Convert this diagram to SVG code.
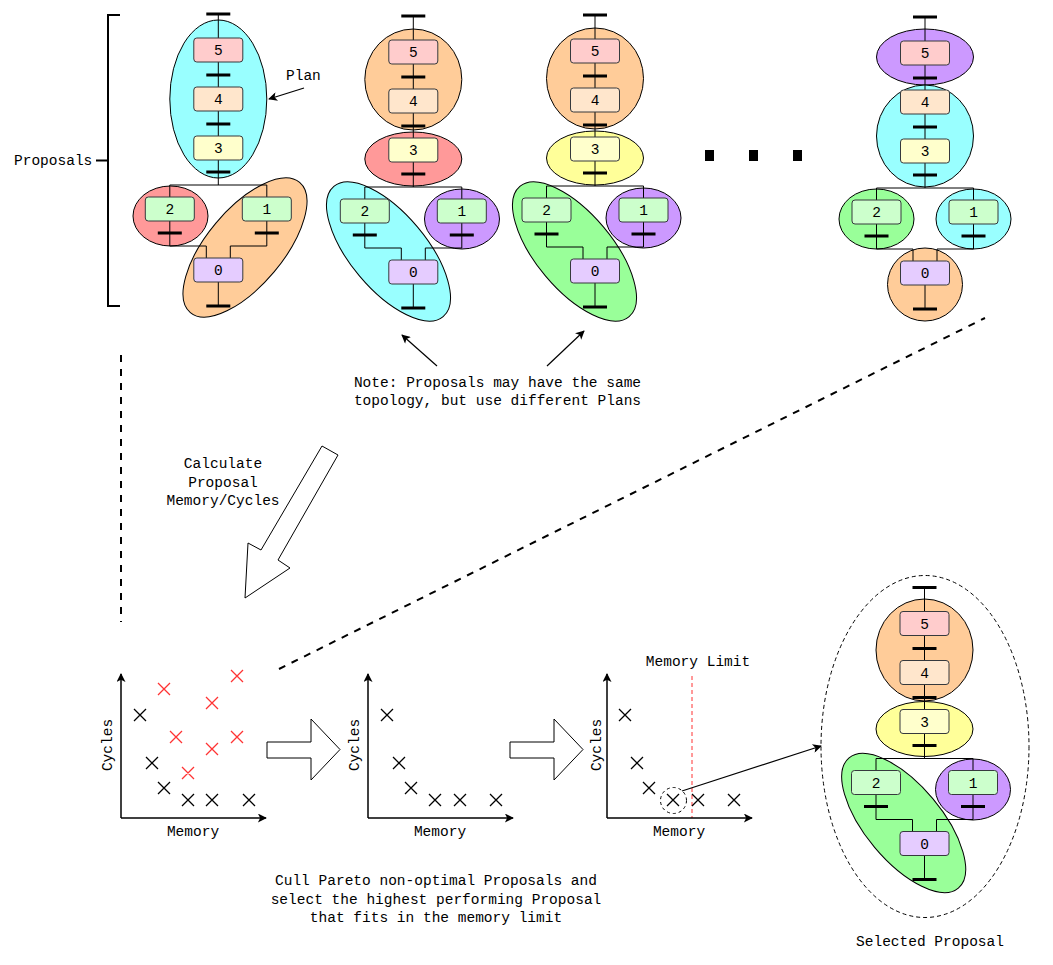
<svg xmlns="http://www.w3.org/2000/svg" width="1053" height="965" viewBox="0 0 1053 965">
<style>
text{font-family:"Liberation Mono","DejaVu Sans Mono",monospace;font-size:14.5px;fill:#000}
.c{text-anchor:middle}
.ln{stroke:#000;stroke-width:1;fill:none}
.bar{stroke:#000;stroke-width:3;fill:none}
.box{stroke:#36393d;stroke-width:1}
.pl{stroke:#000;stroke-width:1}
.ax{stroke:#000;stroke-width:1.5;fill:none;marker-end:url(#ah)}
.xm{stroke:#000;stroke-width:1.3;fill:none}
.xr{stroke:#ff3333;stroke-width:1.3;fill:none}
.dash{stroke:#000;stroke-width:2;fill:none;stroke-dasharray:7 7}
.arr{stroke:#000;stroke-width:1.2;fill:none;marker-end:url(#ah)}
.blk{fill:#fff;stroke:#000;stroke-width:1}
</style>
<defs>
<marker id="ah" viewBox="0 0 10 10" refX="9" refY="5" markerWidth="10" markerHeight="9" orient="auto" markerUnits="userSpaceOnUse">
<path d="M0,0 L10,5 L0,10 L2.5,5 z" fill="#000"/>
</marker>
<g id="topo">
<path class="ln" d="M0,0V171 M-48.5,171H48.5 M-48.5,171V232H-12V244 M48.5,171V232H12V244 M0,268V292"/>
<path class="bar" d="M-12,0H12 M-12,61H12 M-12,110H12 M-12,158H12 M-60.5,219H-36.5 M36.5,219H60.5 M-12,292H12"/>
<rect class="box" x="-24.5" y="24" width="49" height="24" rx="3" fill="#ffcccc"/>
<text class="c" x="0" y="41">5</text>
<rect class="box" x="-24.5" y="73" width="49" height="24" rx="3" fill="#ffe6cc"/>
<text class="c" x="0" y="90">4</text>
<rect class="box" x="-24.5" y="122" width="49" height="24" rx="3" fill="#ffffcc"/>
<text class="c" x="0" y="139">3</text>
<rect class="box" x="-73" y="183" width="49" height="24" rx="3" fill="#ccffcc"/>
<text class="c" x="-48.5" y="200">2</text>
<rect class="box" x="24" y="183" width="49" height="24" rx="3" fill="#ccffcc"/>
<text class="c" x="48.5" y="200">1</text>
<rect class="box" x="-24.5" y="244" width="49" height="24" rx="3" fill="#e5ccff"/>
<text class="c" x="0" y="261">0</text>
</g>
</defs>
<rect width="1053" height="965" fill="#fff"/>

<g id="proposals-bracket">
<path d="M120,15H108V306H120 M96,160.5H108" stroke="#000" stroke-width="2" fill="none"/>
<text x="14" y="165">Proposals</text>
</g>

<g id="proposal-1" transform="translate(218.3,14)">
<ellipse class="pl" cx="0" cy="85" rx="48.5" ry="79" fill="#99ffff"/>
<ellipse class="pl" cx="-47.8" cy="202" rx="37.5" ry="30" fill="#ff9999"/>
<ellipse class="pl" transform="translate(26.7,233.5) rotate(-50)" rx="85" ry="38" fill="#ffcc99"/>
<use href="#topo"/>
</g>
<text id="plan-label" x="286" y="80">Plan</text>

<g id="proposal-2" transform="translate(413.3,16)">
<ellipse class="pl" cx="0" cy="63.5" rx="48.5" ry="50.5" fill="#ffcc99"/>
<ellipse class="pl" cx="0" cy="143" rx="48.5" ry="27" fill="#ff9999"/>
<ellipse class="pl" transform="translate(-24.8,235.5) rotate(50)" rx="85" ry="38" fill="#99ffff"/>
<ellipse class="pl" cx="48.7" cy="203" rx="37.5" ry="30" fill="#cc99ff"/>
<use href="#topo"/>
</g>

<g id="proposal-3" transform="translate(595,15)">
<ellipse class="pl" cx="0" cy="63.5" rx="48.5" ry="50.5" fill="#ffcc99"/>
<ellipse class="pl" cx="0" cy="143" rx="48.5" ry="27" fill="#ffff99"/>
<ellipse class="pl" transform="translate(-20.5,236.5) rotate(50)" rx="85" ry="38" fill="#99ff99"/>
<ellipse class="pl" cx="48.5" cy="203" rx="37.5" ry="30" fill="#cc99ff"/>
<use href="#topo"/>
</g>

<g id="ellipsis">
<path d="M705,155.5H802" stroke="#000" stroke-width="11" stroke-dasharray="9 35" fill="none"/>
</g>

<g id="proposal-4" transform="translate(925,17)">
<ellipse class="pl" cx="0" cy="40" rx="48.5" ry="28" fill="#cc99ff"/>
<ellipse class="pl" cx="0" cy="119" rx="48.5" ry="51" fill="#99ffff"/>
<ellipse class="pl" cx="-48.5" cy="202" rx="37.5" ry="30" fill="#99ff99"/>
<ellipse class="pl" cx="48.5" cy="202" rx="37.5" ry="30" fill="#99ffff"/>
<ellipse class="pl" cx="0" cy="267.5" rx="37.5" ry="36.5" fill="#ffcc99"/>
<use href="#topo"/>
</g>

<g id="note">
<text class="c" x="497.5" y="387">Note: Proposals may have the same</text>
<text class="c" x="497.5" y="405">topology, but use different Plans</text>
</g>

<g id="calc-label">
<text class="c" x="223" y="468">Calculate</text>
<text class="c" x="223" y="486.5">Proposal</text>
<text class="c" x="223" y="505">Memory/Cycles</text>
</g>

<g id="plot-1">
<path class="ax" d="M121,818V674"/>
<path class="ax" d="M121,818H266"/>
<text class="c" transform="translate(112,745) rotate(-90)">Cycles</text>
<text class="c" x="193" y="836">Memory</text>
<path class="xm" d="M134,709l12,12m0,-12l-12,12 M146,757l12,12m0,-12l-12,12 M158,782l12,12m0,-12l-12,12 M182,794l12,12m0,-12l-12,12 M206,794l12,12m0,-12l-12,12 M243,794l12,12m0,-12l-12,12"/>
<path class="xr" d="M158,683l12,12m0,-12l-12,12 M231,670l12,12m0,-12l-12,12 M206,697l12,12m0,-12l-12,12 M170,731l12,12m0,-12l-12,12 M231,731l12,12m0,-12l-12,12 M206,743l12,12m0,-12l-12,12 M182,767l12,12m0,-12l-12,12"/>
</g>

<g id="plot-2">
<path class="ax" d="M368,818V674"/>
<path class="ax" d="M368,818H513"/>
<text class="c" transform="translate(358.5,745) rotate(-90)">Cycles</text>
<text class="c" x="440" y="836">Memory</text>
<path class="xm" d="M381,709l12,12m0,-12l-12,12 M393,757l12,12m0,-12l-12,12 M405,782l12,12m0,-12l-12,12 M429,794l12,12m0,-12l-12,12 M454,794l12,12m0,-12l-12,12 M490,794l12,12m0,-12l-12,12"/>
</g>

<g id="plot-3">
<path d="M692,676V818" stroke="#ff3333" stroke-width="1" stroke-dasharray="4 3" fill="none"/>
<path class="ax" d="M607,818V674"/>
<path class="ax" d="M607,818H752"/>
<text class="c" transform="translate(600.5,745) rotate(-90)">Cycles</text>
<text class="c" x="679" y="836">Memory</text>
<text class="c" x="698" y="666">Memory Limit</text>
<path class="xm" d="M619,709l12,12m0,-12l-12,12 M631,757l12,12m0,-12l-12,12 M643,782l12,12m0,-12l-12,12 M667,794l12,12m0,-12l-12,12 M692,794l12,12m0,-12l-12,12 M728,794l12,12m0,-12l-12,12"/>
<circle cx="673.5" cy="800.5" r="13" fill="none" stroke="#000" stroke-width="1" stroke-dasharray="3 3"/>
</g>

<g id="cull-label">
<text class="c" x="436" y="885">Cull Pareto non-optimal Proposals and</text>
<text class="c" x="436" y="903.5">select the highest performing Proposal</text>
<text class="c" x="436" y="922">that fits in the memory limit</text>
</g>

<g id="selected-proposal">
<ellipse cx="925" cy="746.5" rx="104" ry="171" fill="none" stroke="#000" stroke-width="1" stroke-dasharray="4 3"/>
<g transform="translate(924.5,587.5)">
<ellipse class="pl" cx="0" cy="62.5" rx="48.5" ry="51" fill="#ffcc99"/>
<ellipse class="pl" cx="0" cy="141.5" rx="48.5" ry="27.5" fill="#ffff99"/>
<ellipse class="pl" transform="translate(-20.8,235.5) rotate(50)" rx="85" ry="38" fill="#99ff99"/>
<ellipse class="pl" cx="48.5" cy="202" rx="37.5" ry="30.5" fill="#cc99ff"/>
<use href="#topo"/>
</g>
<text class="c" x="930" y="946">Selected Proposal</text>
</g>

<g id="connectors">
<path class="arr" d="M304,88L269,99"/>
<path class="arr" d="M437,366L402,335"/>
<path class="arr" d="M547,366L584,331"/>
<path class="dash" d="M121,355V622"/>
<path class="dash" d="M279,669L985,318"/>
<path class="arr" d="M682,791L821,746"/>
<polygon class="blk" points="322,446 338,455 278,560 290,568 245,598 248,543 261,550"/>
<polygon class="blk" points="267,742 311,742 311,719 340,749.5 311,780 311,758 267,758"/>
<polygon class="blk" points="510,742 554,742 554,719 583,749.5 554,780 554,758 510,758"/>
</g>
</svg>
